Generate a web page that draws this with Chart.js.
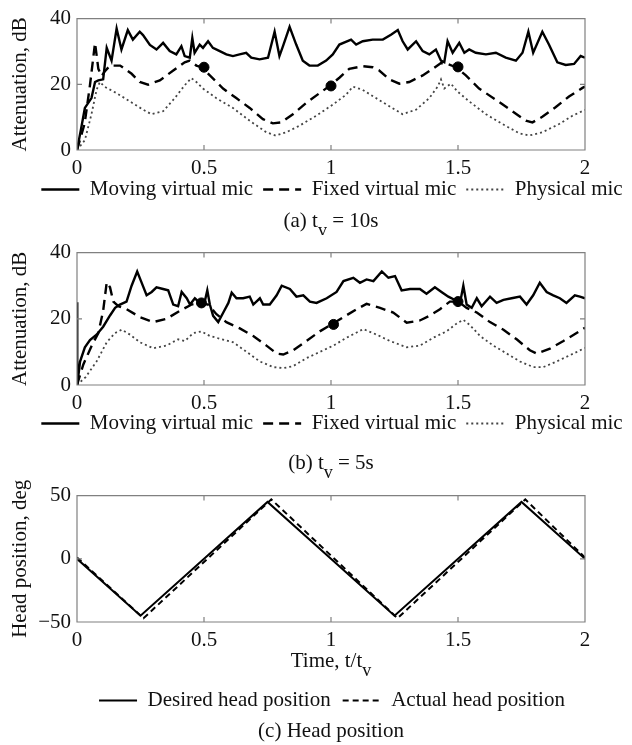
<!DOCTYPE html>
<html><head><meta charset="utf-8">
<script src="https://cdn.jsdelivr.net/npm/chart.js@4.4.1/dist/chart.umd.min.js"></script>
<style>
html,body{margin:0;padding:0;background:#fff;width:632px;height:745px;overflow:hidden;position:relative;}
canvas{position:absolute;left:0;}
</style></head><body>
<canvas id="ca" width="664" height="235" style="top:0px;width:664px;height:235px"></canvas>
<canvas id="cb" width="664" height="250" style="top:234px;width:664px;height:250px"></canvas>
<canvas id="cc" width="664" height="268" style="top:477px;width:664px;height:268px"></canvas>
<script>
// ---------- tick labels / categories ----------
const xTickValues = [0, 0.5, 1, 1.5, 2];
const yTicksAtt = [0, 20, 40];
const yTicksHead = [-50, 0, 50];
const attSeriesNames = ['Moving virtual mic', 'Fixed virtual mic', 'Physical mic'];
const headSeriesNames = ['Desired head position', 'Actual head position'];

// ---------- (a) t_v = 10s : [t/t_v, dB] ----------
const movingA = [[0,0],[0.015,6],[0.031,12.8],[0.057,15.8],[0.071,20.7],[0.084,21.2],[0.103,21.5],[0.117,31.1],[0.136,27.2],[0.156,37],[0.175,30.6],[0.2,36.5],[0.22,33.6],[0.247,36],[0.26,35],[0.287,32],[0.313,30.6],[0.339,32.6],[0.365,30.1],[0.391,29.1],[0.411,31.6],[0.424,28.6],[0.444,28.1],[0.454,34.1],[0.463,29.6],[0.483,32.1],[0.496,31.1],[0.516,33.1],[0.535,31.1],[0.562,30.1],[0.588,29.1],[0.614,28.6],[0.64,29.1],[0.666,29.6],[0.686,28.1],[0.719,27.6],[0.752,28.1],[0.778,36],[0.797,28.6],[0.811,31.6],[0.837,37.5],[0.863,32.1],[0.889,27.2],[0.915,25.7],[0.948,25.7],[0.981,27.2],[1.007,29.1],[1.033,32.1],[1.079,33.6],[1.099,32.1],[1.125,33.1],[1.164,33.6],[1.204,33.6],[1.236,35.1],[1.263,36.5],[1.282,33.1],[1.302,30.6],[1.335,33.1],[1.361,30.1],[1.387,29.1],[1.413,30.6],[1.433,27.2],[1.446,26.7],[1.459,33.1],[1.479,29.6],[1.505,32.6],[1.525,29.6],[1.544,30.6],[1.57,29.6],[1.61,29.1],[1.649,29.6],[1.688,28.1],[1.728,27.2],[1.754,29.6],[1.777,36],[1.796,29.6],[1.832,36],[1.858,32.1],[1.891,26.7],[1.924,25.9],[1.957,26.2],[1.983,28.6],[2,28.1]];
const fixedA = [[0,0],[0.03,8],[0.051,19.7],[0.071,32.6],[0.084,24.7],[0.097,22.5],[0.11,24],[0.13,25.7],[0.17,25.7],[0.215,23.2],[0.247,20.7],[0.28,19.9],[0.326,21.2],[0.379,24.2],[0.424,26.7],[0.444,27.2],[0.47,25.7],[0.49,25.2],[0.523,22.7],[0.575,18.7],[0.627,15.8],[0.68,12.8],[0.732,9.4],[0.771,8.1],[0.804,8.4],[0.85,10.9],[0.902,14.3],[0.955,17.3],[0.994,19.5],[1.033,22],[1.072,24.7],[1.125,25.5],[1.164,25.2],[1.19,24.2],[1.23,21.5],[1.269,20.2],[1.308,20.7],[1.361,22.7],[1.4,24.7],[1.433,26.5],[1.459,26.2],[1.492,25.2],[1.531,22.7],[1.583,18.7],[1.649,15.3],[1.714,11.8],[1.767,8.9],[1.793,8.4],[1.832,10.1],[1.884,13],[1.937,16.3],[1.99,18.9],[2,19.3]];
const physicalA = [[0,0],[0.031,3],[0.057,10.9],[0.077,18.3],[0.09,20.7],[0.11,19.2],[0.156,17.3],[0.208,14.8],[0.26,12.3],[0.293,10.9],[0.339,11.8],[0.385,15.8],[0.424,19.7],[0.45,21.9],[0.47,20.7],[0.496,18.7],[0.548,15.8],[0.614,12.8],[0.68,8.9],[0.745,5.4],[0.782,4.4],[0.824,5.4],[0.876,7.4],[0.941,10.4],[1.007,13.8],[1.059,16.8],[1.086,19.3],[1.125,18.3],[1.177,15.8],[1.23,13.3],[1.282,10.9],[1.335,12.3],[1.387,15.8],[1.42,19.3],[1.433,21.5],[1.446,18.7],[1.472,20.2],[1.498,17.8],[1.544,14.8],[1.61,10.9],[1.675,7.9],[1.741,5.1],[1.78,4.4],[1.832,5.4],[1.898,7.9],[1.95,10.4],[2,12.2]];
const markersA = [[0.5,25.2],[1.0,19.5],[1.5,25.3]];

// ---------- (b) t_v = 5s ----------
const movingB = [[0,25],[0.001,0],[0.012,7.1],[0.031,11.4],[0.051,13.6],[0.077,15.2],[0.103,17.6],[0.13,21],[0.15,23.3],[0.169,24.3],[0.195,25.2],[0.215,30],[0.237,34.3],[0.254,31],[0.274,27.1],[0.294,28.1],[0.313,29.5],[0.339,29],[0.359,28.6],[0.379,24.3],[0.398,23.8],[0.412,28.1],[0.432,26.2],[0.445,24.3],[0.464,26.2],[0.484,24.8],[0.503,25.2],[0.513,28.6],[0.523,24.3],[0.536,20.9],[0.556,19],[0.576,21.9],[0.596,24.8],[0.609,27.9],[0.628,26.2],[0.654,26.2],[0.68,26.7],[0.694,24.3],[0.72,26.2],[0.733,24.3],[0.759,24.3],[0.786,27.1],[0.806,30],[0.838,29],[0.864,26.7],[0.891,27.1],[0.917,25.2],[0.943,24.8],[0.983,26.2],[1.022,28.1],[1.049,31.4],[1.088,32.4],[1.114,30.9],[1.14,31.9],[1.167,31.4],[1.2,34.3],[1.226,32.4],[1.252,32.9],[1.278,28.6],[1.311,29],[1.35,29],[1.376,27.6],[1.409,29.5],[1.435,28.1],[1.462,26.7],[1.488,25.7],[1.508,24.8],[1.521,30],[1.534,24.3],[1.554,23.3],[1.574,26.2],[1.593,23.8],[1.626,26.7],[1.652,24.8],[1.679,25.7],[1.711,26.2],[1.744,26.7],[1.77,24.3],[1.796,27.1],[1.822,30.9],[1.849,28.1],[1.875,27.1],[1.901,26.2],[1.927,24.8],[1.96,27.1],[1.98,26.7],[2,26.2]];
const fixedB = [[0,0],[0.025,6.2],[0.058,11.9],[0.084,15.7],[0.103,22.4],[0.117,31],[0.13,29.5],[0.143,25.2],[0.163,23.8],[0.195,22.9],[0.248,20.5],[0.3,19],[0.352,20],[0.405,22.4],[0.451,24.3],[0.484,24.8],[0.516,24.3],[0.549,21.4],[0.588,19],[0.641,17.1],[0.694,14.8],[0.746,11.9],[0.786,9.5],[0.812,9.2],[0.851,10.5],[0.903,13.3],[0.956,16.2],[1.002,18.3],[1.049,20.5],[1.101,22.9],[1.14,24.5],[1.193,23.3],[1.245,21.9],[1.298,18.8],[1.35,19.5],[1.39,21],[1.429,22.9],[1.468,25.2],[1.501,25.2],[1.534,23.3],[1.574,21.9],[1.626,19],[1.679,16.7],[1.731,13.8],[1.783,10.5],[1.81,9.5],[1.862,11],[1.915,13.3],[1.967,15.7],[2,17.3]];
const physicalB = [[0,0],[0.034,2.4],[0.077,7.1],[0.117,12.9],[0.15,15.7],[0.176,16.7],[0.209,15.2],[0.248,12.9],[0.3,11.1],[0.352,11.9],[0.398,13.8],[0.425,13.3],[0.458,15.7],[0.49,16.2],[0.523,14.8],[0.562,14],[0.615,12.9],[0.668,10],[0.72,7.1],[0.773,5.4],[0.812,5.1],[0.851,5.7],[0.903,8.1],[0.956,10],[1.009,11.9],[1.062,14.3],[1.127,16.9],[1.18,15.2],[1.232,13.3],[1.298,11.4],[1.35,11.9],[1.403,14.3],[1.455,16.2],[1.495,18.6],[1.521,19.7],[1.547,18.1],[1.587,14.8],[1.639,11.9],[1.692,9.5],[1.744,7.1],[1.797,5.4],[1.836,5.4],[1.888,7.1],[1.941,9],[2,11.2]];
const markersB = [[0.49,24.8],[1.01,18.3],[1.5,25.2]];

// ---------- (c) head position, deg ----------
const desiredHead = [[0,0],[0.25,-45],[0.75,45],[1.25,-45],[1.75,45],[2,0]];
const actualHead = [[0,1],[0.262,-47],[0.765,47],[1.262,-47],[1.765,47],[2,1]];

// ---------- helpers ----------
const FONT = "'Liberation Serif','Times New Roman',serif";
Chart.defaults.font.family = FONT;
Chart.defaults.font.size = 21;
Chart.defaults.color = '#111';
const toXY = a => a.map(p => ({x: p[0], y: p[1]}));

const boxPlugin = {
  id: 'matlabBox',
  afterDatasetsDraw(chart) {
    const {ctx, chartArea: a} = chart;
    const xs = chart.scales.x, ys = chart.scales.y;
    ctx.save();
    ctx.strokeStyle = '#808080';
    ctx.lineWidth = 1.2;
    ctx.setLineDash([]);
    ctx.beginPath();
    ctx.rect(a.left, a.top, a.right - a.left, a.bottom - a.top);
    const tl = 5;
    xs.ticks.forEach(t => {
      const p = xs.getPixelForValue(t.value);
      ctx.moveTo(p, a.bottom); ctx.lineTo(p, a.bottom - tl);
      ctx.moveTo(p, a.top); ctx.lineTo(p, a.top + tl);
    });
    ys.ticks.forEach(t => {
      const p = ys.getPixelForValue(t.value);
      ctx.moveTo(a.left, p); ctx.lineTo(a.left + tl, p);
      ctx.moveTo(a.right, p); ctx.lineTo(a.right - tl, p);
    });
    ctx.stroke();
    ctx.restore();
  }
};

// moves the legend box to a fixed offset below the plot area
function legendShift(offset) {
  return {
    id: 'legendShift',
    beforeDraw(chart) {
      const lg = chart.legend;
      if (!lg || offset == null) return;
      const h = lg.height;
      lg.top = chart.chartArea.bottom + offset;
      lg.bottom = lg.top + h;
    }
  };
}

// text with subscript drawn centered on the plot area
function subTextPlugin(items) {
  return {
    id: 'subText',
    afterDraw(chart) {
      const {ctx, chartArea: a} = chart;
      const cx = (a.left + a.right) / 2;
      ctx.save();
      ctx.fillStyle = '#111';
      ctx.textBaseline = 'alphabetic';
      ctx.textAlign = 'left';
      items.forEach(it => {
        const main = '21px ' + FONT, sub = '18px ' + FONT;
        let w = 0;
        it.parts.forEach(p => { ctx.font = p[1] ? sub : main; w += ctx.measureText(p[0]).width; });
        let x = cx - w / 2;
        it.parts.forEach(p => {
          ctx.font = p[1] ? sub : main;
          ctx.fillText(p[0], x, it.y + (p[1] ? 9 : 0));
          x += ctx.measureText(p[0]).width;
        });
      });
      ctx.restore();
    }
  };
}

function xScale(h) {
  return {
    type: 'linear', min: 0, max: 2,
    afterBuildTicks: s => { s.ticks = xTickValues.map(v => ({value: v})); },
    ticks: {padding: 6, color: '#111', maxRotation: 0, autoSkip: false, callback: v => String(v)},
    grid: {display: false, drawTicks: false},
    border: {display: false},
    afterFit: s => { s.height = h; }
  };
}
function yScale(min, max, tickVals, title) {
  return {
    type: 'linear', min, max,
    afterBuildTicks: s => { s.ticks = tickVals.map(v => ({value: v})); },
    ticks: {padding: 6, color: '#111', callback: v => (v < 0 ? '\u2212' + (-v) : String(v))},
    grid: {display: false, drawTicks: false},
    border: {display: false},
    title: {display: true, text: title, color: '#111', font: {size: 21}, padding: {top: 8, bottom: 0}},
    afterFit: s => { s.width = 77; }
  };
}
const spacer = {
  position: 'right', display: true,
  ticks: {display: false}, grid: {display: false, drawTicks: false}, border: {display: false},
  afterFit: s => { s.width = 79; }
};
function legendOpts(pad) {
  return {
    position: 'bottom',
    labels: {
      usePointStyle: true, pointStyle: 'line', pointStyleWidth: 38, padding: pad,
      color: '#111', font: {size: 21},
      filter: item => item.text !== 'markers',
      generateLabels: chart => {
        const items = Chart.defaults.plugins.legend.labels.generateLabels(chart);
        items.forEach(it => {
          const ds = chart.data.datasets[it.datasetIndex];
          it.lineDash = ds.borderDash || [];
          it.lineWidth = ds.borderWidth;
          it.strokeStyle = ds.borderColor;
          it.lineCap = 'butt';
        });
        return items;
      }
    }
  };
}

function attDatasets(moving, fixed, physical, markers) {
  return [
    {label: attSeriesNames[0], data: toXY(moving), borderColor: '#000', borderWidth: 2.4, pointRadius: 0, tension: 0},
    {label: attSeriesNames[1], data: toXY(fixed), borderColor: '#000', borderWidth: 2.4, borderDash: [10, 6], pointRadius: 0, tension: 0},
    {label: attSeriesNames[2], data: toXY(physical), borderColor: '#444', borderWidth: 1.8, borderDash: [2, 3], pointRadius: 0, tension: 0},
    {label: 'markers', data: toXY(markers), showLine: false, pointRadius: 5, pointBackgroundColor: '#000', pointBorderColor: '#000', borderColor: '#000'}
  ];
}

function makeChart(id, datasets, yS, xH, pad, items, legendOffset, legendPad) {
  return new Chart(document.getElementById(id), {
    type: 'line',
    data: {datasets},
    options: {
      responsive: false, animation: false, devicePixelRatio: 1,
      layout: {padding: pad},
      scales: {x: xScale(xH), y: yS, yR: spacer},
      plugins: {legend: legendOpts(legendPad), tooltip: {enabled: false}, title: {display: false}}
    },
    plugins: [boxPlugin, legendShift(legendOffset), subTextPlugin(items)]
  });
}

makeChart('ca', attDatasets(movingA, fixedA, physicalA, markersA),
  yScale(0, 40, yTicksAtt, 'Attenuation, dB'), 33,
  {top: 15, left: 0, right: 0, bottom: 11},
  [{y: 227, parts: [['(a) t', 0], ['v', 1], [' = 10s', 0]]}], 19, 10);

makeChart('cb', attDatasets(movingB, fixedB, physicalB, markersB),
  yScale(0, 40, yTicksAtt, 'Attenuation, dB'), 33,
  {top: 13, left: 0, right: 0, bottom: 25},
  [{y: 235, parts: [['(b) t', 0], ['v', 1], [' = 5s', 0]]}], 18, 10);

makeChart('cc', [
    {label: headSeriesNames[0], data: toXY(desiredHead), borderColor: '#000', borderWidth: 2, pointRadius: 0, tension: 0},
    {label: headSeriesNames[1], data: toXY(actualHead), borderColor: '#000', borderWidth: 2, borderDash: [6, 4], pointRadius: 0, tension: 0}
  ],
  yScale(-50, 50, yTicksHead, 'Head position, deg'), 56,
  {top: 13, left: 0, right: 0, bottom: 24},
  [{y: 190, parts: [['Time, t/t', 0], ['v', 1]]}, {y: 260, parts: [['(c) Head position', 0]]}], 56, 12);
</script>
</body></html>
